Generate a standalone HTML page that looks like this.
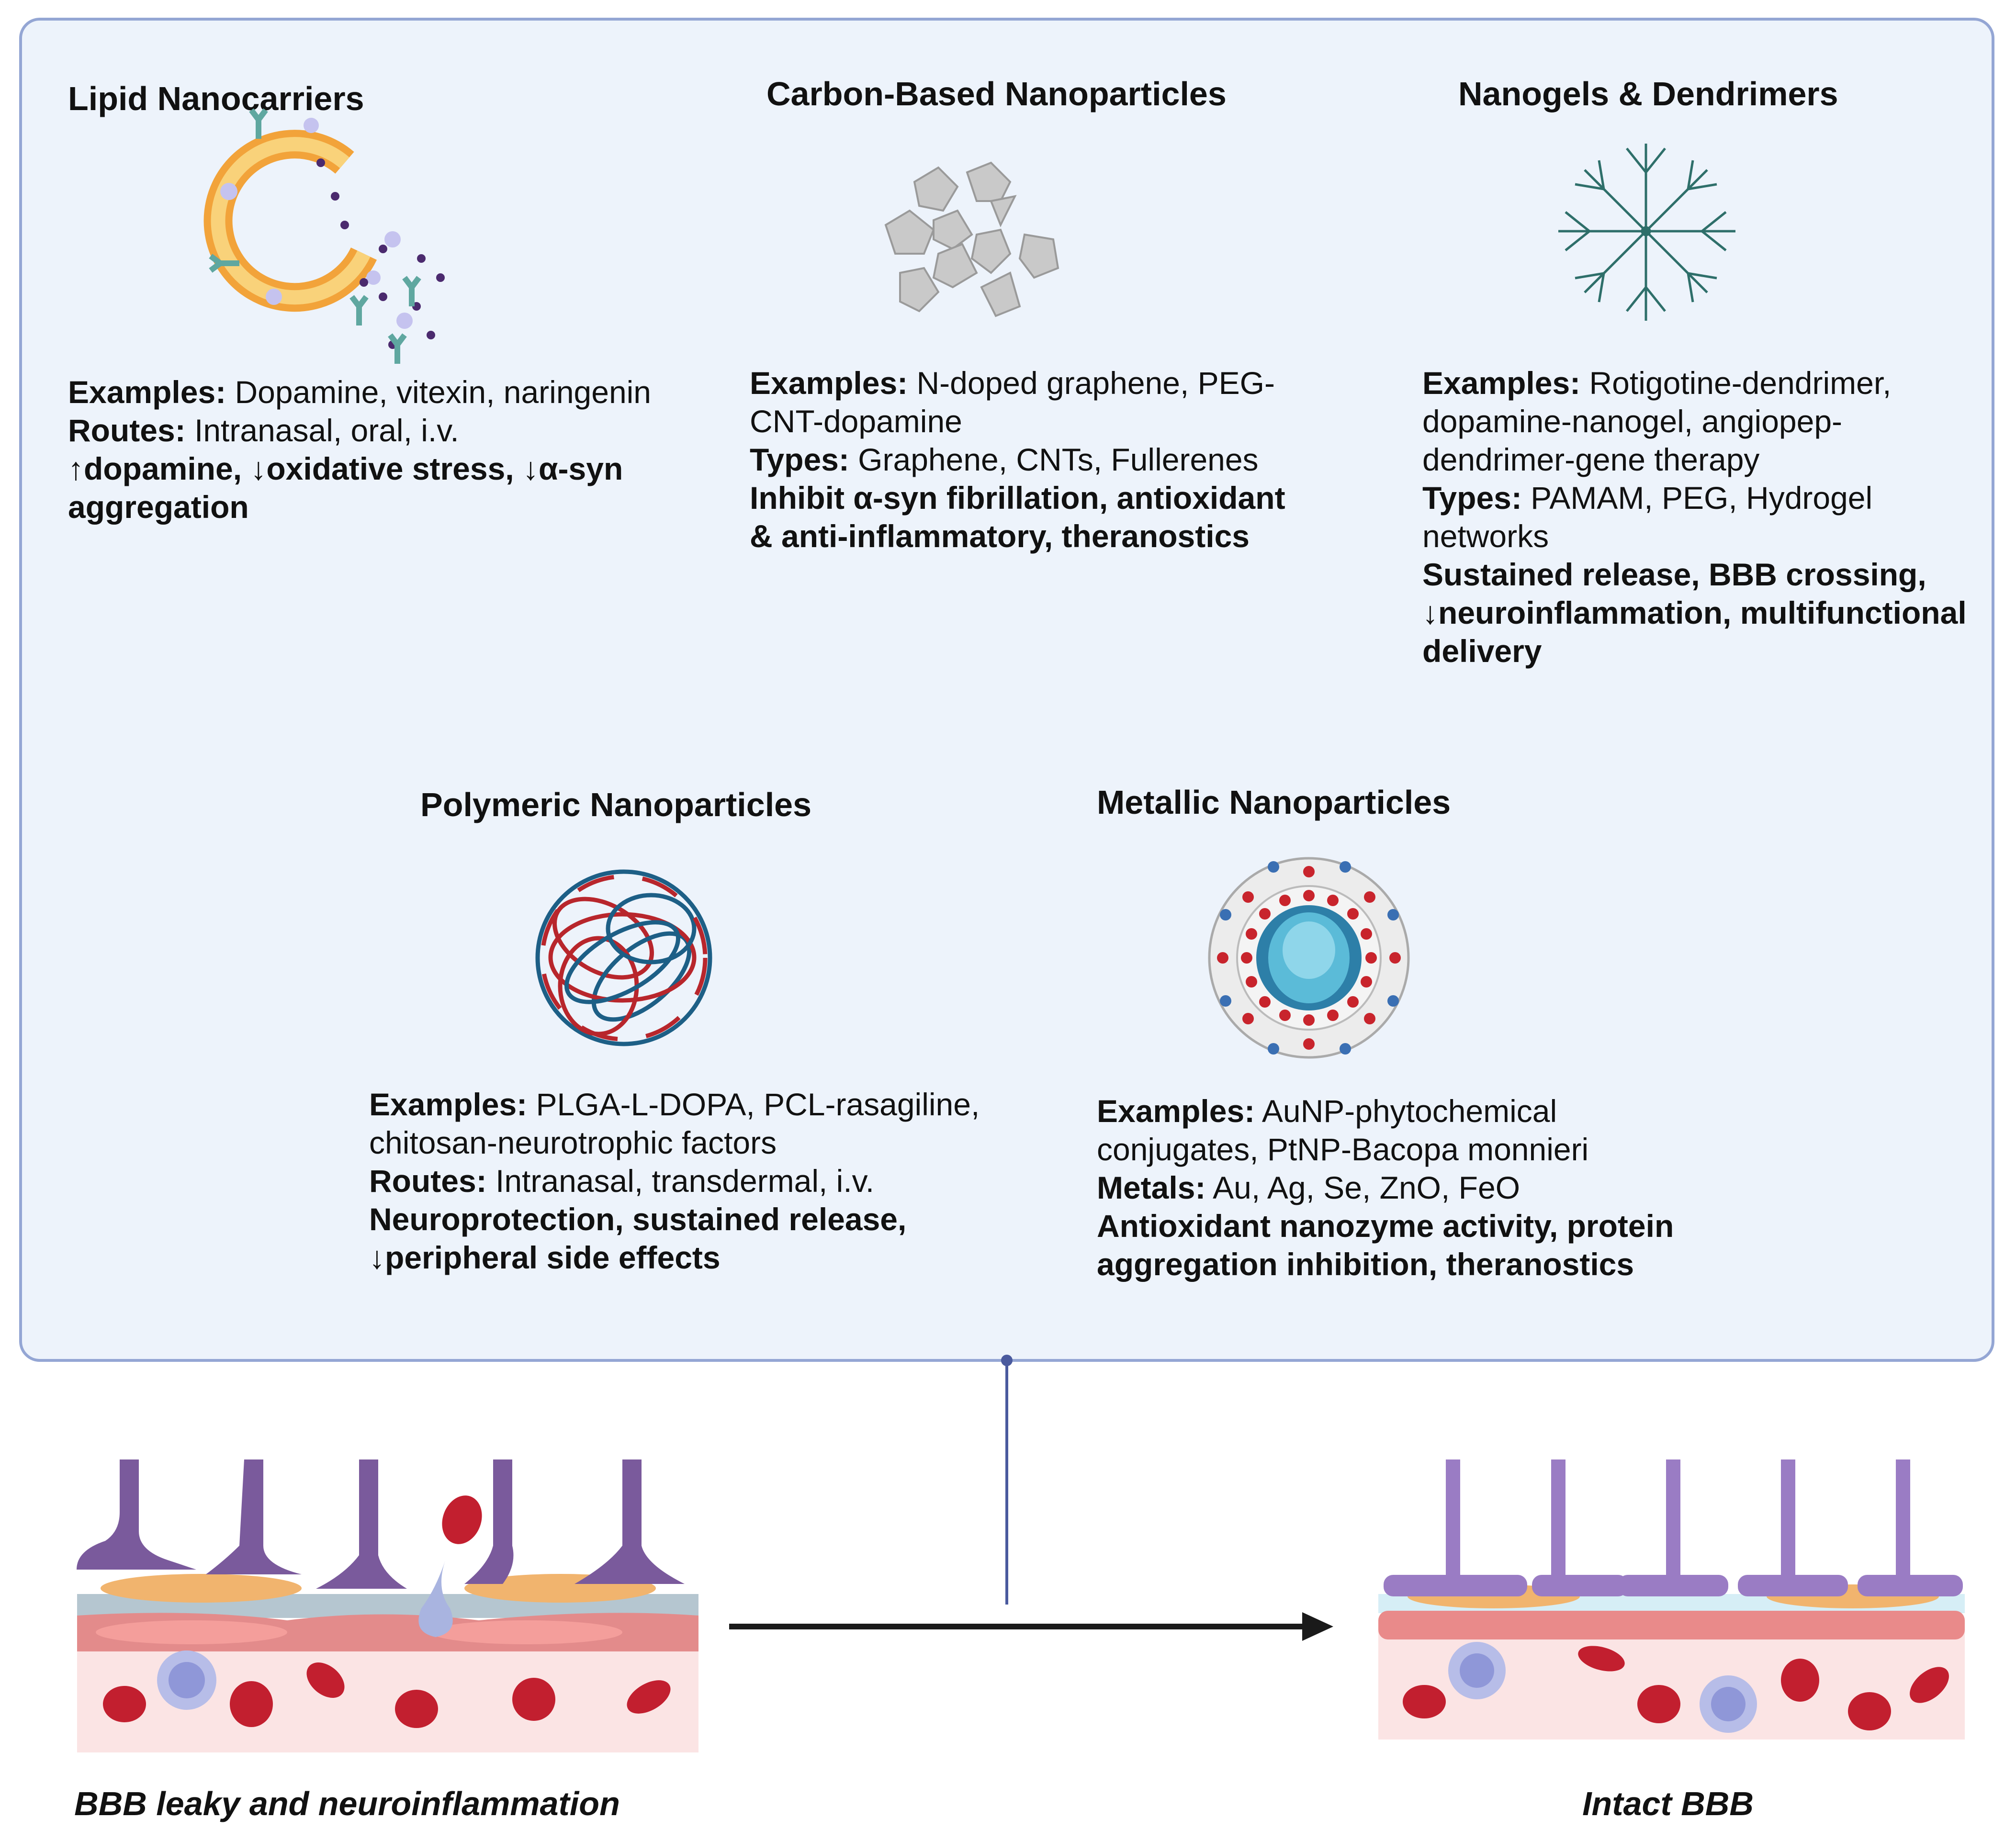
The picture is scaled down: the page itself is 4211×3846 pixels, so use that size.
<!DOCTYPE html>
<html><head><meta charset="utf-8"><style>
html,body{margin:0;padding:0;background:#fff}
svg{display:block}
text{font-family:"Liberation Sans",Arial,sans-serif}
.h{font-size:70px;font-weight:bold;fill:#111}
.t{font-size:66px;fill:#111}
.b{font-weight:bold}
</style></head><body>
<svg width="4211" height="3846" viewBox="0 0 4211 3846" xmlns="http://www.w3.org/2000/svg">
<rect x="0" y="0" width="4211" height="3846" fill="#fff"/>
<rect x="43" y="40" width="4120" height="2802" rx="40" fill="#edf3fb" stroke="#94a6d4" stroke-width="6"/>

<text class="h" x="142" y="230">Lipid Nanocarriers</text>
<text class="h" x="1601" y="220">Carbon-Based Nanoparticles</text>
<text class="h" x="3046" y="220">Nanogels &amp; Dendrimers</text>
<text class="h" x="878" y="1705">Polymeric Nanoparticles</text>
<text class="h" x="2291" y="1700">Metallic Nanoparticles</text>

<text class="t" x="142" y="842"><tspan class="b">Examples:</tspan> Dopamine, vitexin, naringenin</text>
<text class="t" x="142" y="922"><tspan class="b">Routes:</tspan> Intranasal, oral, i.v.</text>
<text class="t b" x="142" y="1002">↑dopamine, ↓oxidative stress, ↓α-syn</text>
<text class="t b" x="142" y="1082">aggregation</text>

<text class="t" x="1566" y="823"><tspan class="b">Examples:</tspan> N-doped graphene, PEG-</text>
<text class="t" x="1566" y="903">CNT-dopamine</text>
<text class="t" x="1566" y="983"><tspan class="b">Types:</tspan> Graphene, CNTs, Fullerenes</text>
<text class="t b" x="1566" y="1063">Inhibit α-syn fibrillation, antioxidant</text>
<text class="t b" x="1566" y="1143">&amp; anti-inflammatory, theranostics</text>

<text class="t" x="2971" y="823"><tspan class="b">Examples:</tspan> Rotigotine-dendrimer,</text>
<text class="t" x="2971" y="903">dopamine-nanogel, angiopep-</text>
<text class="t" x="2971" y="983">dendrimer-gene therapy</text>
<text class="t" x="2971" y="1063"><tspan class="b">Types:</tspan> PAMAM, PEG, Hydrogel</text>
<text class="t" x="2971" y="1143">networks</text>
<text class="t b" x="2971" y="1223">Sustained release, BBB crossing,</text>
<text class="t b" x="2971" y="1303">↓neuroinflammation, multifunctional</text>
<text class="t b" x="2971" y="1383">delivery</text>

<text class="t" x="771" y="2330"><tspan class="b">Examples:</tspan> PLGA-L-DOPA, PCL-rasagiline,</text>
<text class="t" x="771" y="2410">chitosan-neurotrophic factors</text>
<text class="t" x="771" y="2490"><tspan class="b">Routes:</tspan> Intranasal, transdermal, i.v.</text>
<text class="t b" x="771" y="2570">Neuroprotection, sustained release,</text>
<text class="t b" x="771" y="2650">↓peripheral side effects</text>

<text class="t" x="2291" y="2344"><tspan class="b">Examples:</tspan> AuNP-phytochemical</text>
<text class="t" x="2291" y="2424">conjugates, PtNP-Bacopa monnieri</text>
<text class="t" x="2291" y="2504"><tspan class="b">Metals:</tspan> Au, Ag, Se, ZnO, FeO</text>
<text class="t b" x="2291" y="2584">Antioxidant nanozyme activity, protein</text>
<text class="t b" x="2291" y="2664">aggregation inhibition, theranostics</text>

<g>
<path d="M720 340 A160 160 0 1 0 760 530" fill="none" stroke="#f2a33a" stroke-width="60"/>
<path d="M720 340 A160 160 0 1 0 760 530" fill="none" stroke="#f9d27a" stroke-width="30"/>
<circle cx="478" cy="400" r="18" fill="#c5c3ef"/><circle cx="650" cy="262" r="16" fill="#c5c3ef"/>
<circle cx="572" cy="620" r="17" fill="#c5c3ef"/><circle cx="820" cy="500" r="17" fill="#c5c3ef"/>
<circle cx="845" cy="670" r="17" fill="#c5c3ef"/><circle cx="780" cy="580" r="15" fill="#c5c3ef"/>
<g fill="#4b2a6e">
<circle cx="670" cy="340" r="9"/><circle cx="700" cy="410" r="9"/><circle cx="720" cy="470" r="9"/>
<circle cx="760" cy="590" r="9"/><circle cx="800" cy="620" r="9"/><circle cx="870" cy="640" r="9"/>
<circle cx="920" cy="580" r="9"/><circle cx="900" cy="700" r="9"/><circle cx="820" cy="720" r="9"/>
<circle cx="880" cy="540" r="9"/><circle cx="800" cy="520" r="9"/>
</g>
<g stroke="#5fa7a0" stroke-width="12" fill="none">
<path d="M540 250 l0 40 M525 230 l15 20 l15 -20"/><path d="M460 550 l40 0 M440 535 l20 15 l-20 15"/>
<path d="M860 600 l0 40 M845 580 l15 20 l15 -20"/><path d="M750 640 l0 40 M735 620 l15 20 l15 -20"/>
<path d="M830 720 l0 40 M815 700 l15 20 l15 -20"/>
</g>
</g>

<g fill="#c9c9c9" stroke="#9a9a9a" stroke-width="4">
<polygon points="1910,380 1960,350 2000,390 1970,440 1920,430"/>
<polygon points="2020,360 2070,340 2110,380 2090,420 2040,420"/>
<polygon points="1850,470 1900,440 1950,480 1930,530 1870,530"/>
<polygon points="1950,460 2000,440 2030,490 1990,520 1950,500"/>
<polygon points="2070,420 2120,410 2090,470"/>
<polygon points="2040,490 2090,480 2110,530 2070,570 2030,540"/>
<polygon points="2140,490 2200,500 2210,560 2160,580 2130,540"/>
<polygon points="1960,530 2010,510 2040,570 1990,600 1950,580"/>
<polygon points="1880,570 1930,560 1960,610 1920,650 1880,630"/>
<polygon points="2050,600 2110,570 2130,640 2080,660"/>
</g>

<g stroke="#2e6f6a" stroke-width="5" fill="none">
<circle cx="3438" cy="483" r="8" fill="#2e6f6a"/>
<path d="M3438 483 L3438 300 M3438 483 L3438 670 M3438 483 L3255 483 M3438 483 L3625 483 M3438 483 L3310 355 M3438 483 L3566 355 M3438 483 L3310 611 M3438 483 L3566 611"/>
<path d="M3438 360 l-40 -50 M3438 360 l40 -50 M3438 600 l-40 50 M3438 600 l40 50 M3320 483 l-50 -40 M3320 483 l-50 40 M3555 483 l50 -40 M3555 483 l50 40"/>
<path d="M3350 395 l-60 -10 M3350 395 l-10 -60 M3526 395 l60 -10 M3526 395 l10 -60 M3350 571 l-60 10 M3350 571 l-10 60 M3526 571 l60 10 M3526 571 l10 60"/>
</g>

<g fill="none" stroke-width="9">
<circle cx="1303" cy="2001" r="180" stroke="#1d5f86"/>
<ellipse cx="1260" cy="1960" rx="110" ry="70" stroke="#b8262c" transform="rotate(30 1260 1960)"/>
<ellipse cx="1340" cy="2040" rx="120" ry="60" stroke="#1d5f86" transform="rotate(-40 1340 2040)"/>
<ellipse cx="1300" cy="2000" rx="150" ry="90" stroke="#b8262c"/>
<ellipse cx="1250" cy="2060" rx="80" ry="100" stroke="#b8262c"/>
<ellipse cx="1360" cy="1940" rx="90" ry="70" stroke="#1d5f86"/>
<circle cx="1303" cy="2001" r="170" stroke="#b8262c" stroke-dasharray="80 60"/>
<ellipse cx="1300" cy="2010" rx="60" ry="130" stroke="#1d5f86" transform="rotate(60 1300 2010)"/>
</g>

<g>
<circle cx="2734" cy="2001" r="208" fill="#ececec" stroke="#aaa" stroke-width="5"/>
<circle cx="2734" cy="2001" r="150" fill="#f4f4f4" stroke="#bbb" stroke-width="4"/>
<circle cx="2734" cy="2001" r="110" fill="#2d7fa8"/>
<ellipse cx="2734" cy="2001" rx="85" ry="95" fill="#5bbbd8"/>
<ellipse cx="2734" cy="1985" rx="55" ry="60" fill="#8fd6ea"/>
<g fill="#c8242c">
<circle cx="2734" cy="1871" r="12"/><circle cx="2734" cy="2131" r="12"/><circle cx="2604" cy="2001" r="12"/><circle cx="2864" cy="2001" r="12"/>
<circle cx="2642" cy="1909" r="12"/><circle cx="2826" cy="1909" r="12"/><circle cx="2642" cy="2093" r="12"/><circle cx="2826" cy="2093" r="12"/>
<circle cx="2684" cy="1881" r="12"/><circle cx="2784" cy="1881" r="12"/><circle cx="2684" cy="2121" r="12"/><circle cx="2784" cy="2121" r="12"/>
<circle cx="2614" cy="1951" r="12"/><circle cx="2614" cy="2051" r="12"/><circle cx="2854" cy="1951" r="12"/><circle cx="2854" cy="2051" r="12"/>
<circle cx="2734" cy="1821" r="12"/><circle cx="2734" cy="2181" r="12"/><circle cx="2554" cy="2001" r="12"/><circle cx="2914" cy="2001" r="12"/>
<circle cx="2607" cy="1874" r="12"/><circle cx="2861" cy="1874" r="12"/><circle cx="2607" cy="2128" r="12"/><circle cx="2861" cy="2128" r="12"/>
</g>
<g fill="#3a6fb3">
<circle cx="2660" cy="1811" r="12"/><circle cx="2810" cy="1811" r="12"/><circle cx="2560" cy="1911" r="12"/><circle cx="2910" cy="1911" r="12"/>
<circle cx="2560" cy="2091" r="12"/><circle cx="2910" cy="2091" r="12"/><circle cx="2660" cy="2191" r="12"/><circle cx="2810" cy="2191" r="12"/>
</g>
</g>

<line x1="2103" y1="2842" x2="2103" y2="3352" stroke="#4a5a9e" stroke-width="6"/>
<circle cx="2103" cy="2842" r="12" fill="#4a5a9e"/>
<line x1="1523" y1="3398" x2="2730" y2="3398" stroke="#1a1a1a" stroke-width="12"/>
<polygon points="2785,3398 2720,3368 2720,3428" fill="#1a1a1a"/>

<g>
<rect x="161" y="3400" width="1298" height="261" fill="#fbe4e4"/>
<rect x="161" y="3330" width="1298" height="50" fill="#b5c6d0"/>
<path d="M161 3375 Q400 3360 600 3385 Q800 3360 1000 3385 Q1250 3360 1459 3375 L1459 3450 L161 3450 Z" fill="#e38b8b"/>
<g fill="#ffaba6" opacity="0.6"><ellipse cx="400" cy="3410" rx="200" ry="25"/><ellipse cx="1100" cy="3410" rx="200" ry="25"/></g>
<ellipse cx="420" cy="3318" rx="210" ry="30" fill="#f1b46e"/>
<ellipse cx="1170" cy="3318" rx="200" ry="30" fill="#f1b46e"/>
<g fill="#7a5a9c">
<path d="M250 3049 h40 v150 q0 40 60 60 l60 20 h-250 q0 -40 60 -60 q30 -20 30 -60 z"/>
<path d="M510 3049 h40 v180 q0 40 80 60 l-200 0 q40 -30 70 -60 z"/>
<path d="M750 3049 h40 v200 q10 40 60 70 h-190 q60 -30 90 -70 z"/>
<path d="M1030 3049 h40 v180 q10 40 -20 80 h-80 q50 -40 60 -80 z"/>
<path d="M1300 3049 h40 v180 q10 40 90 80 h-230 q70 -40 100 -80 z"/>
</g>
<path d="M930 3260 q-20 60 -50 100 q-20 50 30 60 q50 -10 30 -60 q-30 -40 -10 -100 z" fill="#a9b4e0"/>
<g fill="#c21f2f">
<ellipse cx="965" cy="3175" rx="40" ry="52" transform="rotate(20 965 3175)"/>
<ellipse cx="260" cy="3560" rx="45" ry="38"/><ellipse cx="525" cy="3560" rx="45" ry="48"/>
<ellipse cx="680" cy="3510" rx="45" ry="30" transform="rotate(40 680 3510)"/>
<ellipse cx="870" cy="3570" rx="45" ry="40"/><ellipse cx="1115" cy="3550" rx="45" ry="45"/>
<ellipse cx="1355" cy="3545" rx="50" ry="28" transform="rotate(-30 1355 3545)"/>
</g>
<circle cx="390" cy="3510" r="62" fill="#b7bde8"/><circle cx="390" cy="3510" r="38" fill="#8f97d8"/>
</g>

<g>
<rect x="2879" y="3390" width="1225" height="244" fill="#fbe4e4"/>
<rect x="2879" y="3330" width="1225" height="40" fill="#d6eef6"/>
<rect x="2879" y="3365" width="1225" height="60" fill="#e98a8a" rx="20"/>
<ellipse cx="3120" cy="3335" rx="180" ry="25" fill="#f1b46e"/>
<ellipse cx="3870" cy="3335" rx="180" ry="25" fill="#f1b46e"/>
<g fill="#9a7cc4">
<rect x="2890" y="3290" width="300" height="45" rx="20"/><rect x="3020" y="3049" width="30" height="260"/><rect x="3240" y="3049" width="30" height="260"/>
<rect x="3200" y="3290" width="200" height="45" rx="20"/>
<rect x="3380" y="3290" width="230" height="45" rx="20"/><rect x="3480" y="3049" width="30" height="260"/>
<rect x="3630" y="3290" width="230" height="45" rx="20"/><rect x="3720" y="3049" width="30" height="260"/>
<rect x="3880" y="3290" width="220" height="45" rx="20"/><rect x="3960" y="3049" width="30" height="260"/>
</g>
<g fill="#c21f2f">
<ellipse cx="2975" cy="3555" rx="45" ry="35"/><ellipse cx="3345" cy="3465" rx="50" ry="24" transform="rotate(15 3345 3465)"/>
<ellipse cx="3465" cy="3560" rx="45" ry="40"/><ellipse cx="3760" cy="3510" rx="40" ry="45"/>
<ellipse cx="3905" cy="3575" rx="45" ry="40"/><ellipse cx="4030" cy="3520" rx="48" ry="28" transform="rotate(-40 4030 3520)"/>
</g>
<circle cx="3085" cy="3490" r="60" fill="#b7bde8"/><circle cx="3085" cy="3490" r="36" fill="#8f97d8"/>
<circle cx="3610" cy="3560" r="60" fill="#b7bde8"/><circle cx="3610" cy="3560" r="36" fill="#8f97d8"/>
</g>

<text x="725" y="3792" text-anchor="middle" style="font-size:70px;font-weight:bold;font-style:italic" fill="#111">BBB leaky and neuroinflammation</text>
<text x="3484" y="3792" text-anchor="middle" style="font-size:70px;font-weight:bold;font-style:italic" fill="#111">Intact BBB</text>
</svg>
</body></html>
